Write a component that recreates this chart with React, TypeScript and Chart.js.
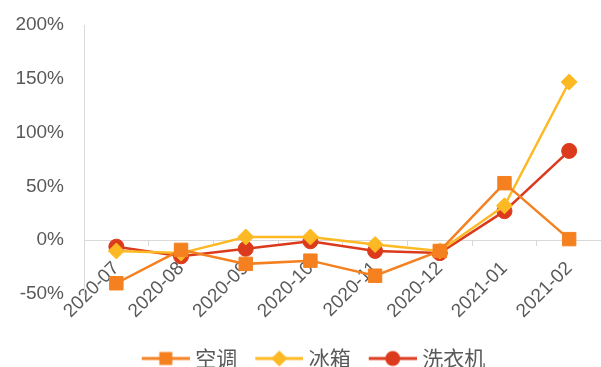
import React, { useEffect, useRef } from "react";
import { Chart, registerables } from "chart.js";

Chart.register(...registerables);

const categories = ["2020-07", "2020-08", "2020-09", "2020-10", "2020-11", "2020-12", "2021-01", "2021-02"];
const seriesNames = ["空调", "冰箱", "洗衣机"];
const acValues = [-40, -9, -22, -19, -33, -10, 53, 1];
const fridgeValues = [-10, -12, 3, 3, -4, -10, 32, 147];
const washerValues = [-6, -15, -8, -1, -10, -12, 27, 83];
const yMin = -50;
const yMax = 200;
const yStep = 50;

const COLORS = ["#F4801F", "#FDB924", "#DB3A1C"];
const STYLES = ["rect", "rectRot", "circle"];
const RADII = [9.5, 8, 7.5];
const TEXT = "#595959";
const AXIS = "#D9D9D9";

// legend icon geometry
const BOX_W = 58;
const ICON_W = 68;
const LINE_START = 20;
const LINE_LEN = 48;

function makeIcon(color: string, style: string): HTMLCanvasElement {
  const c = document.createElement("canvas");
  c.width = ICON_W;
  c.height = 18;
  const ctx = c.getContext("2d")!;
  const cy = 9;
  const cx = LINE_START + LINE_LEN / 2;
  ctx.strokeStyle = color;
  ctx.fillStyle = color;
  ctx.lineWidth = 3;
  ctx.beginPath();
  ctx.moveTo(LINE_START, cy);
  ctx.lineTo(LINE_START + LINE_LEN, cy);
  ctx.stroke();
  ctx.beginPath();
  if (style === "rect") {
    ctx.rect(cx - 6.5, cy - 6.5, 13, 13);
  } else if (style === "rectRot") {
    ctx.moveTo(cx, cy - 8);
    ctx.lineTo(cx + 8, cy);
    ctx.lineTo(cx, cy + 8);
    ctx.lineTo(cx - 8, cy);
    ctx.closePath();
  } else {
    ctx.arc(cx, cy, 7.5, 0, Math.PI * 2);
  }
  ctx.fill();
  return c;
}

export default function App() {
  const ref = useRef<HTMLCanvasElement | null>(null);

  useEffect(() => {
    if (!ref.current) return;
    const icons = COLORS.map((c, i) => makeIcon(c, STYLES[i]));
    const values = [acValues, fridgeValues, washerValues];
    const chart = new Chart(ref.current, {
      type: "line",
      data: {
        labels: categories,
        datasets: seriesNames.map((name, i) => ({
          label: name,
          data: values[i],
          xAxisID: "x",
          yAxisID: "y",
          borderColor: COLORS[i],
          backgroundColor: COLORS[i],
          borderWidth: 2.5,
          pointStyle: STYLES[i] as any,
          pointRadius: RADII[i],
          pointBorderWidth: 1,
          pointBorderColor: COLORS[i],
          pointBackgroundColor: COLORS[i],
          tension: 0,
        })),
      },
      options: {
        animation: false,
        responsive: false,
        layout: { padding: { left: 4, right: 4, top: 25, bottom: -12 } },
        scales: {
          x: {
            type: "category",
            position: { y: 0 } as any,
            offset: true,
            grid: {
              display: true,
              offset: true,
              drawOnChartArea: false,
              drawTicks: true,
              tickLength: 5,
              color: AXIS,
            },
            border: { display: true, color: AXIS, width: 1 },
            ticks: {
              color: TEXT,
              minRotation: 45,
              maxRotation: 45,
              autoSkip: false,
              padding: 12,
              font: { family: "'Liberation Sans', Arial, sans-serif", size: 19 },
            },
            afterFit: (s: any) => {
              s.paddingLeft = 0;
              s.paddingRight = 0;
            },
          },
          gap: {
            type: "linear",
            axis: "x",
            position: "bottom",
            display: true,
            grid: { display: false },
            border: { display: false },
            ticks: { display: false },
            afterFit: (s: any) => {
              s.height = 51;
            },
          } as any,
          y: {
            type: "linear",
            min: yMin,
            max: yMax,
            grid: {
              display: true,
              drawOnChartArea: false,
              drawTicks: false,
              color: AXIS,
            },
            border: { display: true, color: AXIS, width: 1 },
            ticks: {
              stepSize: yStep,
              color: TEXT,
              padding: 20,
              font: { family: "'Liberation Sans', Arial, sans-serif", size: 19 },
              callback: (v: any) => `${v}%`,
            },
            afterFit: (s: any) => {
              s.width = 80;
              s.paddingTop = 0;
              s.paddingBottom = 0;
            },
          },
        },
        plugins: {
          tooltip: { enabled: false },
          legend: {
            display: true,
            position: "bottom",
            labels: {
              usePointStyle: true,
              pointStyleWidth: BOX_W,
              padding: 3,
              color: TEXT,
              font: { family: "'Noto Sans CJK SC', 'Liberation Sans', sans-serif", size: 21 },
              generateLabels: (ch: any) => {
                const items = Chart.defaults.plugins.legend.labels.generateLabels(ch);
                return items.map((it: any, i: number) => ({ ...it, pointStyle: icons[i] }));
              },
            },
          },
        },
      },
    });
    return () => chart.destroy();
  }, []);

  return (
    <div style={{ position: "fixed", left: 0, top: 0, width: 601, height: 367, overflow: "hidden", background: "#fff" }}>
      <canvas ref={ref} width={612} height={367} style={{ display: "block" }} />
    </div>
  );
}
